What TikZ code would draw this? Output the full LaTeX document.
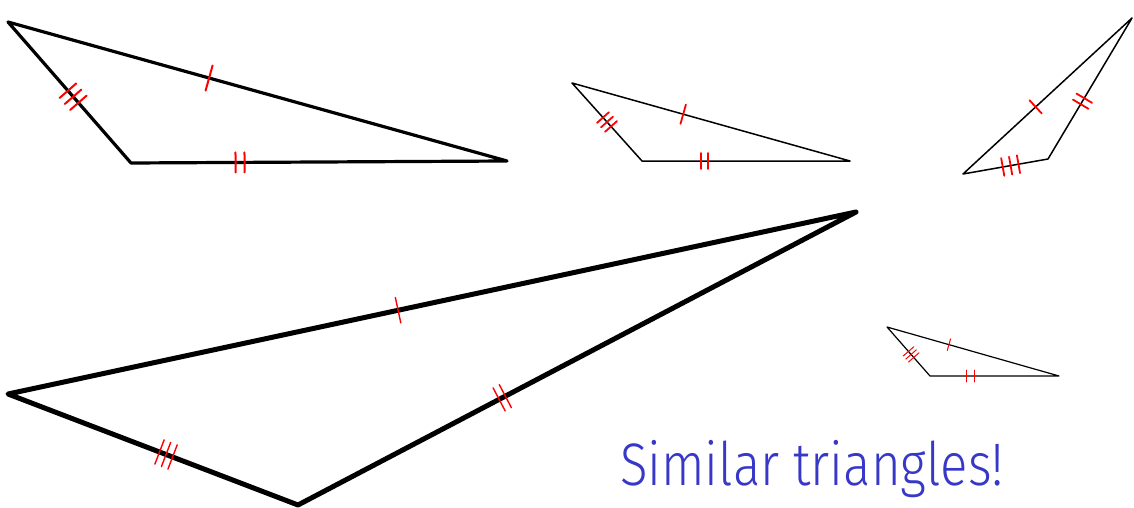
\documentclass[tikz,border=0pt]{standalone}
\usepackage{fontspec}
\usetikzlibrary{calc}
\newfontfamily\hand{Fira Sans}[UprightFont={* Light}]
\definecolor{tickred}{rgb}{1,0,0}
\definecolor{handblue}{RGB}{55,55,200}
\newcommand\eqticks[6]{%
  \foreach \o in {#4}{%
    \coordinate (tq) at ($($(#1)!#3!(#2)$)!\o!(#2)$);
    \draw[#6] ($(tq)!#5!90:(#2)$) -- ($(tq)!#5!-90:(#2)$);
  }%
}
\begin{document}
\begin{tikzpicture}[x=1pt,y=-1pt,
  tri/.style={draw=black,line join=round,line cap=round},
  tk/.style={draw=tickred,line width=#1,line cap=round},
  tk/.default=1.8pt]
\useasboundingbox (0,0) rectangle (1134,508);
% triangle 1 (top left)
\coordinate (A1) at (8,22); \coordinate (B1) at (131,163); \coordinate (C1) at (507,161);
\draw[tri,line width=3.2pt] (A1) -- (B1) -- (C1) -- cycle;
\eqticks{A1}{C1}{0.403}{0pt}{13pt}{tk=2pt}
\eqticks{A1}{B1}{0.53}{-8pt,0pt,8pt}{11pt}{tk=2pt}
\eqticks{B1}{C1}{0.29}{-4.5pt,4.5pt}{10pt}{tk=2pt}
% triangle 2 (top middle)
\coordinate (A2) at (572,83); \coordinate (B2) at (642,161); \coordinate (C2) at (850,161);
\draw[tri,line width=1.5pt] (A2) -- (B2) -- (C2) -- cycle;
\eqticks{A2}{C2}{0.40}{0pt}{10pt}{tk}
\eqticks{A2}{B2}{0.5}{-6pt,0pt,6pt}{8pt}{tk}
\eqticks{B2}{C2}{0.30}{-3.5pt,3.5pt}{8pt}{tk}
% triangle 3 (top right)
\coordinate (A3) at (963,174); \coordinate (B3) at (1048,159); \coordinate (C3) at (1132,18);
\draw[tri,line width=1.5pt] (A3) -- (B3) -- (C3) -- cycle;
\eqticks{A3}{C3}{0.43}{0pt}{9pt}{tk}
\eqticks{B3}{C3}{0.41}{-3.5pt,3.5pt}{9pt}{tk}
\eqticks{A3}{B3}{0.56}{-8pt,0pt,8pt}{9pt}{tk}
% triangle 4 (big)
\coordinate (A4) at (8,394); \coordinate (B4) at (298,505); \coordinate (C4) at (856,212);
\draw[tri,line width=5pt] (A4) -- (B4) -- (C4) -- cycle;
\eqticks{A4}{C4}{0.46}{0pt}{13pt}{tk=1.4pt}
\eqticks{B4}{C4}{0.366}{-3.5pt,3.5pt}{13pt}{tk=1.4pt}
\eqticks{A4}{B4}{0.545}{-7pt,0pt,7pt}{13pt}{tk=1.4pt}
% triangle 5 (small)
\coordinate (A5) at (887,327); \coordinate (B5) at (930,376); \coordinate (C5) at (1059,376);
\draw[tri,line width=1.2pt] (A5) -- (B5) -- (C5) -- cycle;
\eqticks{A5}{C5}{0.36}{0pt}{6pt}{tk=1pt}
\eqticks{B5}{C5}{0.31}{-4pt,4pt}{6pt}{tk=1pt}
\eqticks{A5}{B5}{0.56}{-4pt,0pt,4pt}{7pt}{tk=1pt}
% label
\node[anchor=base west,inner sep=0pt,text=handblue] (lbl) at (620,485)
  {\scalebox{0.85}[1]{\hand\fontsize{60}{60}\selectfont Similar triangles!}};
\end{tikzpicture}
\end{document}
